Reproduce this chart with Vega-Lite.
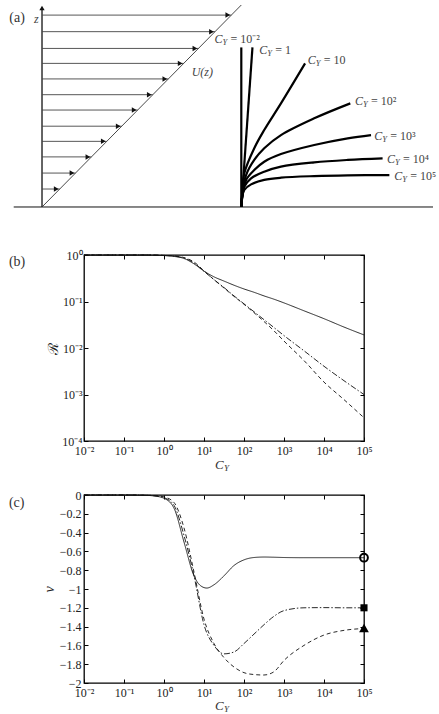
{
  "$schema": "https://vega.github.io/schema/vega-lite/v6.json",
  "padding": {"left": 8, "top": 3, "right": 0, "bottom": 0},
  "bounds": "flush",
  "spacing": 54,
  "config": {
    "font": "Liberation Serif",
    "view": {"stroke": "#000", "strokeWidth": 1.3},
    "axis": {"labelFont": "Liberation Serif", "labelFontSize": 12, "labelColor": "#222", "tickColor": "#000", "tickWidth": 1, "domain": false, "grid": false, "titleFont": "Liberation Serif", "titleFontWeight": "normal", "titleColor": "#222", "labelFlush": false, "labelOverlap": false},
    "text": {"font": "Liberation Serif", "color": "#222"}
  },
  "datasets": {
    "schem": [
      {"id": "base", "i": 0, "x": -0.142, "z": 0}, {"id": "base", "i": 1, "x": 1.962, "z": 0},
      {"id": "wall", "i": 0, "x": 0, "z": 0}, {"id": "wall", "i": 1, "x": 0, "z": 0.985},
      {"id": "diag", "i": 0, "x": 0, "z": 0}, {"id": "diag", "i": 1, "x": 1.0, "z": 1.0}
    ],
    "fibers": [
      {"id": "f0", "i": 0, "x": 1.0, "z": 0}, {"id": "f0", "i": 1, "x": 1.0, "z": 0.79},
      {"id": "f1", "i": 0, "x": 1.0, "z": 0}, {"id": "f1", "i": 1, "x": 1.056, "z": 0.79},
      {"id": "f2", "i": 0, "x": 1.0, "z": 0}, {"id": "f2", "i": 1, "x": 1.004, "z": 0.06}, {"id": "f2", "i": 2, "x": 1.015, "z": 0.167}, {"id": "f2", "i": 3, "x": 1.065, "z": 0.291}, {"id": "f2", "i": 4, "x": 1.115, "z": 0.381}, {"id": "f2", "i": 5, "x": 1.199, "z": 0.513}, {"id": "f2", "i": 6, "x": 1.32, "z": 0.711},
      {"id": "f3", "i": 0, "x": 1.0, "z": 0}, {"id": "f3", "i": 1, "x": 1.005, "z": 0.06}, {"id": "f3", "i": 2, "x": 1.024, "z": 0.158}, {"id": "f3", "i": 3, "x": 1.065, "z": 0.233}, {"id": "f3", "i": 4, "x": 1.115, "z": 0.291}, {"id": "f3", "i": 5, "x": 1.199, "z": 0.356}, {"id": "f3", "i": 6, "x": 1.366, "z": 0.439}, {"id": "f3", "i": 7, "x": 1.547, "z": 0.513},
      {"id": "f4", "i": 0, "x": 1.0, "z": 0}, {"id": "f4", "i": 1, "x": 1.005, "z": 0.05}, {"id": "f4", "i": 2, "x": 1.024, "z": 0.134}, {"id": "f4", "i": 3, "x": 1.065, "z": 0.183}, {"id": "f4", "i": 4, "x": 1.115, "z": 0.224}, {"id": "f4", "i": 5, "x": 1.199, "z": 0.262}, {"id": "f4", "i": 6, "x": 1.366, "z": 0.307}, {"id": "f4", "i": 7, "x": 1.534, "z": 0.34}, {"id": "f4", "i": 8, "x": 1.651, "z": 0.356},
      {"id": "f5", "i": 0, "x": 1.0, "z": 0}, {"id": "f5", "i": 1, "x": 1.004, "z": 0.045}, {"id": "f5", "i": 2, "x": 1.015, "z": 0.1}, {"id": "f5", "i": 3, "x": 1.049, "z": 0.142}, {"id": "f5", "i": 4, "x": 1.115, "z": 0.175}, {"id": "f5", "i": 5, "x": 1.199, "z": 0.2}, {"id": "f5", "i": 6, "x": 1.366, "z": 0.221}, {"id": "f5", "i": 7, "x": 1.534, "z": 0.233}, {"id": "f5", "i": 8, "x": 1.709, "z": 0.241},
      {"id": "f6", "i": 0, "x": 1.0, "z": 0}, {"id": "f6", "i": 1, "x": 1.003, "z": 0.04}, {"id": "f6", "i": 2, "x": 1.015, "z": 0.084}, {"id": "f6", "i": 3, "x": 1.049, "z": 0.112}, {"id": "f6", "i": 4, "x": 1.115, "z": 0.134}, {"id": "f6", "i": 5, "x": 1.199, "z": 0.145}, {"id": "f6", "i": 6, "x": 1.366, "z": 0.153}, {"id": "f6", "i": 7, "x": 1.534, "z": 0.157}, {"id": "f6", "i": 8, "x": 1.743, "z": 0.158}
    ],
    "arrows": [
      {"u0": 0, "u": 0.95, "z": 0.95}, {"u0": 0, "u": 0.868, "z": 0.868}, {"u0": 0, "u": 0.785, "z": 0.785}, {"u0": 0, "u": 0.711, "z": 0.711},
      {"u0": 0, "u": 0.634, "z": 0.634}, {"u0": 0, "u": 0.556, "z": 0.556}, {"u0": 0, "u": 0.48, "z": 0.48}, {"u0": 0, "u": 0.4, "z": 0.4},
      {"u0": 0, "u": 0.325, "z": 0.325}, {"u0": 0, "u": 0.248, "z": 0.248}, {"u0": 0, "u": 0.168, "z": 0.168}, {"u0": 0, "u": 0.089, "z": 0.089}
    ],
    "labs": [
      {"rhs": "= 10⁻²", "x": 0.865, "z": 0.832},
      {"rhs": "= 1", "x": 1.09, "z": 0.777},
      {"rhs": "= 10", "x": 1.333, "z": 0.728},
      {"rhs": "= 10²", "x": 1.571, "z": 0.526},
      {"rhs": "= 10³", "x": 1.667, "z": 0.353},
      {"rhs": "= 10⁴", "x": 1.731, "z": 0.236},
      {"rhs": "= 10⁵", "x": 1.768, "z": 0.153}
    ],
    "rb": [
      {"curve": "solid", "CY": 0.01, "R": 1}, {"curve": "solid", "CY": 0.1, "R": 1}, {"curve": "solid", "CY": 0.3162, "R": 0.998}, {"curve": "solid", "CY": 1, "R": 0.973}, {"curve": "solid", "CY": 1.778, "R": 0.933}, {"curve": "solid", "CY": 3.162, "R": 0.841}, {"curve": "solid", "CY": 5.623, "R": 0.645}, {"curve": "solid", "CY": 10, "R": 0.45}, {"curve": "solid", "CY": 17.78, "R": 0.339}, {"curve": "solid", "CY": 31.62, "R": 0.275}, {"curve": "solid", "CY": 56.23, "R": 0.224}, {"curve": "solid", "CY": 100, "R": 0.186}, {"curve": "solid", "CY": 177.8, "R": 0.158}, {"curve": "solid", "CY": 316.2, "R": 0.132}, {"curve": "solid", "CY": 562.3, "R": 0.112}, {"curve": "solid", "CY": 1000, "R": 0.0933}, {"curve": "solid", "CY": 3162, "R": 0.0631}, {"curve": "solid", "CY": 10000, "R": 0.0427}, {"curve": "solid", "CY": 31623, "R": 0.0282}, {"curve": "solid", "CY": 100000, "R": 0.0191},
      {"curve": "dashdot", "CY": 0.01, "R": 1}, {"curve": "dashdot", "CY": 0.1, "R": 1}, {"curve": "dashdot", "CY": 0.3162, "R": 0.999}, {"curve": "dashdot", "CY": 1, "R": 0.977}, {"curve": "dashdot", "CY": 1.778, "R": 0.944}, {"curve": "dashdot", "CY": 3.162, "R": 0.861}, {"curve": "dashdot", "CY": 5.623, "R": 0.676}, {"curve": "dashdot", "CY": 10, "R": 0.447}, {"curve": "dashdot", "CY": 17.78, "R": 0.295}, {"curve": "dashdot", "CY": 31.62, "R": 0.2}, {"curve": "dashdot", "CY": 56.23, "R": 0.132}, {"curve": "dashdot", "CY": 100, "R": 0.0891}, {"curve": "dashdot", "CY": 177.8, "R": 0.0603}, {"curve": "dashdot", "CY": 316.2, "R": 0.0407}, {"curve": "dashdot", "CY": 562.3, "R": 0.0275}, {"curve": "dashdot", "CY": 1000, "R": 0.0185}, {"curve": "dashdot", "CY": 3162, "R": 0.00871}, {"curve": "dashdot", "CY": 10000, "R": 0.00405}, {"curve": "dashdot", "CY": 31623, "R": 0.00198}, {"curve": "dashdot", "CY": 100000, "R": 0.001},
      {"curve": "dashed", "CY": 0.01, "R": 1}, {"curve": "dashed", "CY": 0.1, "R": 1}, {"curve": "dashed", "CY": 0.3162, "R": 0.999}, {"curve": "dashed", "CY": 1, "R": 0.982}, {"curve": "dashed", "CY": 1.778, "R": 0.955}, {"curve": "dashed", "CY": 3.162, "R": 0.881}, {"curve": "dashed", "CY": 5.623, "R": 0.708}, {"curve": "dashed", "CY": 10, "R": 0.457}, {"curve": "dashed", "CY": 17.78, "R": 0.295}, {"curve": "dashed", "CY": 31.62, "R": 0.195}, {"curve": "dashed", "CY": 56.23, "R": 0.129}, {"curve": "dashed", "CY": 100, "R": 0.0871}, {"curve": "dashed", "CY": 177.8, "R": 0.0575}, {"curve": "dashed", "CY": 316.2, "R": 0.0372}, {"curve": "dashed", "CY": 562.3, "R": 0.0234}, {"curve": "dashed", "CY": 1000, "R": 0.0141}, {"curve": "dashed", "CY": 3162, "R": 0.00537}, {"curve": "dashed", "CY": 10000, "R": 0.00185}, {"curve": "dashed", "CY": 31623, "R": 0.000775}, {"curve": "dashed", "CY": 100000, "R": 0.000316}
    ],
    "nc": [
      {"curve": "solid", "CY": 0.01, "nu": 0}, {"curve": "solid", "CY": 0.1, "nu": 0}, {"curve": "solid", "CY": 0.3162, "nu": -0.003}, {"curve": "solid", "CY": 0.5623, "nu": -0.01}, {"curve": "solid", "CY": 1, "nu": -0.035}, {"curve": "solid", "CY": 1.778, "nu": -0.14}, {"curve": "solid", "CY": 3.162, "nu": -0.5}, {"curve": "solid", "CY": 5.623, "nu": -0.86}, {"curve": "solid", "CY": 7.943, "nu": -0.96}, {"curve": "solid", "CY": 11.75, "nu": -0.99}, {"curve": "solid", "CY": 17.78, "nu": -0.955}, {"curve": "solid", "CY": 31.62, "nu": -0.86}, {"curve": "solid", "CY": 56.23, "nu": -0.75}, {"curve": "solid", "CY": 100, "nu": -0.69}, {"curve": "solid", "CY": 177.8, "nu": -0.665}, {"curve": "solid", "CY": 316.2, "nu": -0.66}, {"curve": "solid", "CY": 562.3, "nu": -0.662}, {"curve": "solid", "CY": 1000, "nu": -0.665}, {"curve": "solid", "CY": 3162, "nu": -0.667}, {"curve": "solid", "CY": 10000, "nu": -0.667}, {"curve": "solid", "CY": 31623, "nu": -0.667}, {"curve": "solid", "CY": 100000, "nu": -0.667},
      {"curve": "dashdot", "CY": 0.01, "nu": 0}, {"curve": "dashdot", "CY": 0.1, "nu": 0}, {"curve": "dashdot", "CY": 0.3162, "nu": -0.002}, {"curve": "dashdot", "CY": 0.5623, "nu": -0.008}, {"curve": "dashdot", "CY": 1, "nu": -0.028}, {"curve": "dashdot", "CY": 1.778, "nu": -0.11}, {"curve": "dashdot", "CY": 3.162, "nu": -0.43}, {"curve": "dashdot", "CY": 5.623, "nu": -0.86}, {"curve": "dashdot", "CY": 10, "nu": -1.38}, {"curve": "dashdot", "CY": 17.78, "nu": -1.6}, {"curve": "dashdot", "CY": 31.62, "nu": -1.69}, {"curve": "dashdot", "CY": 56.23, "nu": -1.67}, {"curve": "dashdot", "CY": 100, "nu": -1.58}, {"curve": "dashdot", "CY": 177.8, "nu": -1.48}, {"curve": "dashdot", "CY": 316.2, "nu": -1.38}, {"curve": "dashdot", "CY": 562.3, "nu": -1.29}, {"curve": "dashdot", "CY": 1000, "nu": -1.23}, {"curve": "dashdot", "CY": 3162, "nu": -1.2}, {"curve": "dashdot", "CY": 10000, "nu": -1.198}, {"curve": "dashdot", "CY": 31623, "nu": -1.2}, {"curve": "dashdot", "CY": 100000, "nu": -1.2},
      {"curve": "dashed", "CY": 0.01, "nu": 0}, {"curve": "dashed", "CY": 0.1, "nu": 0}, {"curve": "dashed", "CY": 0.3162, "nu": -0.002}, {"curve": "dashed", "CY": 0.5623, "nu": -0.005}, {"curve": "dashed", "CY": 1, "nu": -0.02}, {"curve": "dashed", "CY": 1.778, "nu": -0.08}, {"curve": "dashed", "CY": 3.162, "nu": -0.35}, {"curve": "dashed", "CY": 5.623, "nu": -0.82}, {"curve": "dashed", "CY": 10, "nu": -1.32}, {"curve": "dashed", "CY": 17.78, "nu": -1.58}, {"curve": "dashed", "CY": 31.62, "nu": -1.73}, {"curve": "dashed", "CY": 56.23, "nu": -1.83}, {"curve": "dashed", "CY": 100, "nu": -1.89}, {"curve": "dashed", "CY": 177.8, "nu": -1.91}, {"curve": "dashed", "CY": 316.2, "nu": -1.915}, {"curve": "dashed", "CY": 562.3, "nu": -1.88}, {"curve": "dashed", "CY": 1000, "nu": -1.76}, {"curve": "dashed", "CY": 3162, "nu": -1.6}, {"curve": "dashed", "CY": 10000, "nu": -1.49}, {"curve": "dashed", "CY": 31623, "nu": -1.44}, {"curve": "dashed", "CY": 100000, "nu": -1.42}
    ]
  },
  "vconcat": [
    {
      "width": 280, "height": 196,
      "view": {"stroke": null},
      "encoding": {
        "x": {"field": "x", "type": "quantitative", "scale": {"domain": [0.2107, 1.6157], "nice": false, "zero": false}, "axis": null},
        "y": {"field": "z", "type": "quantitative", "scale": {"domain": [0.0297, 1], "nice": false, "zero": false}, "axis": null}
      },
      "layer": [
        {
          "data": {"name": "schem"},
          "transform": [{"filter": "datum.id === 'base'"}],
          "mark": {"type": "line", "color": "#111", "strokeWidth": 1},
          "encoding": {"order": {"field": "i", "type": "quantitative"}}
        },
        {
          "data": {"name": "schem"},
          "transform": [{"filter": "datum.id === 'wall'"}],
          "mark": {"type": "line", "color": "#111", "strokeWidth": 1.3},
          "encoding": {"order": {"field": "i", "type": "quantitative"}}
        },
        {
          "data": {"name": "schem"},
          "transform": [{"filter": "datum.id === 'diag'"}],
          "mark": {"type": "line", "color": "#333", "strokeWidth": 0.9},
          "encoding": {"order": {"field": "i", "type": "quantitative"}}
        },
        {
          "data": {"name": "arrows"},
          "mark": {"type": "rule", "color": "#444", "strokeWidth": 0.9},
          "encoding": {
            "x": {"field": "u0", "type": "quantitative"},
            "x2": {"field": "u"},
            "y": {"field": "z", "type": "quantitative"}
          }
        },
        {
          "data": {"name": "arrows"},
          "mark": {"type": "point", "shape": "triangle-right", "filled": true, "color": "#111", "size": 30, "opacity": 1, "xOffset": -3.5},
          "encoding": {
            "x": {"field": "u", "type": "quantitative"},
            "y": {"field": "z", "type": "quantitative"}
          }
        },
        {
          "data": {"values": [{"x": 0, "z": 1}]},
          "mark": {"type": "point", "shape": "triangle-up", "filled": true, "color": "#111", "size": 28, "opacity": 1, "yOffset": 3}
        },
        {
          "data": {"name": "fibers"},
          "mark": {"type": "line", "color": "#000", "strokeWidth": 2.2, "interpolate": "catmull-rom"},
          "encoding": {
            "detail": {"field": "id", "type": "nominal"},
            "order": {"field": "i", "type": "quantitative"}
          }
        },
        {
          "data": {"values": [{"t": "(a)", "x": -0.164, "z": 0.934}]},
          "mark": {"type": "text", "align": "left", "baseline": "middle", "fontSize": 14, "color": "#333"},
          "encoding": {"text": {"field": "t", "type": "nominal"}}
        },
        {
          "data": {"values": [{"t": "z", "x": -0.04, "z": 0.93}, {"t": "U(z)", "x": 0.751, "z": 0.67}]},
          "mark": {"type": "text", "align": "left", "baseline": "middle", "fontSize": 12, "fontStyle": "italic", "color": "#444"},
          "encoding": {"text": {"field": "t", "type": "nominal"}}
        },
        {
          "data": {"name": "labs"},
          "mark": {"type": "text", "align": "left", "baseline": "middle", "fontSize": 12, "fontStyle": "italic", "color": "#444", "text": "C"}
        },
        {
          "data": {"name": "labs"},
          "mark": {"type": "text", "align": "left", "baseline": "middle", "fontSize": 8.5, "fontStyle": "italic", "color": "#444", "text": "Y", "dx": 8, "dy": 3}
        },
        {
          "data": {"name": "labs"},
          "mark": {"type": "text", "align": "left", "baseline": "middle", "fontSize": 12, "color": "#444", "dx": 16},
          "encoding": {"text": {"field": "rhs", "type": "nominal"}}
        }
      ]
    },
    {
      "width": 280, "height": 186,
      "layer": [
        {
          "data": {"name": "rb"},
          "mark": {"type": "line", "color": "#111", "strokeWidth": 0.9, "interpolate": "monotone"},
          "encoding": {
            "x": {"field": "CY", "type": "quantitative", "scale": {"type": "log", "domain": [0.01, 100000], "nice": false},
              "axis": {"orient": "bottom", "values": [0.01, 0.1, 1, 10, 100, 1000, 10000, 100000], "labelExpr": "'10' + ['⁻⁴','⁻³','⁻²','⁻¹','⁰','¹','²','³','⁴','⁵'][round(log(datum.value)/LN10)+4]", "title": null, "tickSize": -4, "labelPadding": 8}},
            "y": {"field": "R", "type": "quantitative", "scale": {"type": "log", "domain": [0.0001, 1], "nice": false},
              "axis": {"orient": "left", "values": [0.0001, 0.001, 0.01, 0.1, 1], "labelExpr": "'10' + ['⁻⁴','⁻³','⁻²','⁻¹','⁰','¹','²','³','⁴','⁵'][round(log(datum.value)/LN10)+4]", "title": "ℛ", "titleFontSize": 14, "titleX": -31, "titleY": 93, "titleAngle": -90, "titleBaseline": "middle", "titleAlign": "center", "tickSize": -4, "labelPadding": 6}},
            "strokeDash": {"field": "curve", "type": "nominal", "scale": {"domain": ["solid", "dashdot", "dashed"], "range": [[1, 0], [6, 2, 1.5, 2], [4, 3]]}, "legend": null}
          }
        },
        {
          "data": {"values": [{"t": "(b)", "CY": 0.000133, "R": 0.708}]},
          "mark": {"type": "text", "align": "left", "baseline": "middle", "fontSize": 14, "color": "#333"},
          "encoding": {
            "x": {"field": "CY", "type": "quantitative", "axis": {"orient": "top", "values": [0.01, 0.1, 1, 10, 100, 1000, 10000, 100000], "labels": false, "title": null, "tickSize": -4}},
            "y": {"field": "R", "type": "quantitative", "axis": {"orient": "right", "values": [0.0001, 0.001, 0.01, 0.1, 1], "labels": false, "title": null, "tickSize": -4}},
            "text": {"field": "t", "type": "nominal"}
          }
        },
        {
          "data": {"values": [{"CY": 18.8, "R": 0.0000305}]},
          "mark": {"type": "text", "align": "left", "baseline": "middle", "fontSize": 13, "fontStyle": "italic", "color": "#333", "text": "C"},
          "encoding": {
            "x": {"field": "CY", "type": "quantitative", "axis": null},
            "y": {"field": "R", "type": "quantitative", "axis": null}
          }
        },
        {
          "data": {"values": [{"CY": 18.8, "R": 0.0000305}]},
          "mark": {"type": "text", "align": "left", "baseline": "middle", "fontSize": 9, "fontStyle": "italic", "color": "#333", "text": "Y", "dx": 9, "dy": 3},
          "encoding": {
            "x": {"field": "CY", "type": "quantitative", "axis": null},
            "y": {"field": "R", "type": "quantitative", "axis": null}
          }
        }
      ],
      "resolve": {"axis": {"x": "independent", "y": "independent"}}
    },
    {
      "width": 280, "height": 188,
      "layer": [
        {
          "data": {"name": "nc"},
          "mark": {"type": "line", "color": "#111", "strokeWidth": 0.9, "interpolate": "monotone"},
          "encoding": {
            "x": {"field": "CY", "type": "quantitative", "scale": {"type": "log", "domain": [0.01, 100000], "nice": false},
              "axis": {"orient": "bottom", "values": [0.01, 0.1, 1, 10, 100, 1000, 10000, 100000], "labelExpr": "'10' + ['⁻⁴','⁻³','⁻²','⁻¹','⁰','¹','²','³','⁴','⁵'][round(log(datum.value)/LN10)+4]", "title": null, "tickSize": -4, "labelPadding": 8}},
            "y": {"field": "nu", "type": "quantitative", "scale": {"domain": [-2, 0], "nice": false, "zero": false},
              "axis": {"orient": "left", "values": [-2, -1.8, -1.6, -1.4, -1.2, -1, -0.8, -0.6, -0.4, -0.2, 0], "labelExpr": "format(datum.value, '~g')", "title": "ν", "titleFontSize": 14, "titleFontStyle": "italic", "titleX": -35, "titleY": 94, "titleAngle": -90, "titleBaseline": "middle", "titleAlign": "center", "tickSize": -4, "labelPadding": 7}},
            "strokeDash": {"field": "curve", "type": "nominal", "scale": {"domain": ["solid", "dashdot", "dashed"], "range": [[1, 0], [6, 2, 1.5, 2], [4, 3]]}, "legend": null}
          }
        },
        {
          "data": {"values": [{"CY": 100000, "nu": -1.2}]},
          "mark": {"type": "point", "shape": "square", "filled": true, "color": "#000", "opacity": 1, "size": 50},
          "encoding": {
            "x": {"field": "CY", "type": "quantitative", "axis": {"orient": "top", "values": [0.01, 0.1, 1, 10, 100, 1000, 10000, 100000], "labels": false, "title": null, "tickSize": -4}},
            "y": {"field": "nu", "type": "quantitative", "axis": {"orient": "right", "values": [-2, -1.8, -1.6, -1.4, -1.2, -1, -0.8, -0.6, -0.4, -0.2, 0], "labels": false, "title": null, "tickSize": -4}}
          }
        },
        {
          "data": {"values": [{"CY": 100000, "nu": -1.414}]},
          "mark": {"type": "point", "shape": "triangle-up", "filled": true, "color": "#000", "opacity": 1, "size": 95},
          "encoding": {
            "x": {"field": "CY", "type": "quantitative", "axis": null},
            "y": {"field": "nu", "type": "quantitative", "axis": null}
          }
        },
        {
          "data": {"values": [{"CY": 100000, "nu": -0.667}]},
          "mark": {"type": "point", "filled": false, "color": "#000", "opacity": 1, "size": 60, "strokeWidth": 2},
          "encoding": {
            "x": {"field": "CY", "type": "quantitative", "axis": null},
            "y": {"field": "nu", "type": "quantitative", "axis": null}
          }
        },
        {
          "data": {"values": [{"t": "(c)", "CY": 0.000133, "nu": -0.088}]},
          "mark": {"type": "text", "align": "left", "baseline": "middle", "fontSize": 14, "color": "#333"},
          "encoding": {
            "x": {"field": "CY", "type": "quantitative", "axis": null},
            "y": {"field": "nu", "type": "quantitative", "axis": null},
            "text": {"field": "t", "type": "nominal"}
          }
        },
        {
          "data": {"values": [{"CY": 18.8, "nu": -2.24}]},
          "mark": {"type": "text", "align": "left", "baseline": "middle", "fontSize": 13, "fontStyle": "italic", "color": "#333", "text": "C"},
          "encoding": {
            "x": {"field": "CY", "type": "quantitative", "axis": null},
            "y": {"field": "nu", "type": "quantitative", "axis": null}
          }
        },
        {
          "data": {"values": [{"CY": 18.8, "nu": -2.24}]},
          "mark": {"type": "text", "align": "left", "baseline": "middle", "fontSize": 9, "fontStyle": "italic", "color": "#333", "text": "Y", "dx": 9, "dy": 3},
          "encoding": {
            "x": {"field": "CY", "type": "quantitative", "axis": null},
            "y": {"field": "nu", "type": "quantitative", "axis": null}
          }
        }
      ],
      "resolve": {"axis": {"x": "independent", "y": "independent"}}
    }
  ]
}
